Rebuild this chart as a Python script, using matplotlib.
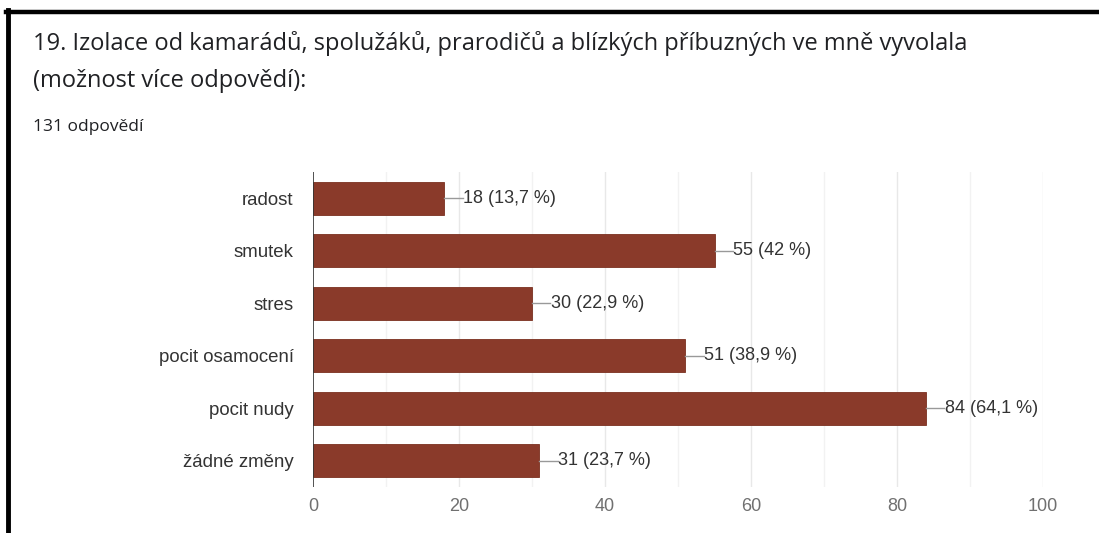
import matplotlib.pyplot as plt
import numpy as np

# data
categories = ["radost", "smutek", "stres", "pocit osamocení", "pocit nudy", "žádné změny"]
counts = [18, 55, 30, 51, 84, 31]
percents = ["13,7", "42", "22,9", "38,9", "64,1", "23,7"]
xticks = [0, 20, 40, 60, 80, 100]

title_1 = "19. Izolace od kamarádů, spolužáků, prarodičů a blízkých příbuzných ve mně vyvolala"
title_2 = "(možnost více odpovědí):"
subtitle = "131 odpovědí"

bar_color = "#8a3a2a"
W, H = 1099, 533

fig = plt.figure(figsize=(W / 100, H / 100), dpi=100)
fig.patch.set_facecolor("white")

# black frame (top and left)
fig.add_artist(plt.Line2D([6 / W, 1.0], [1 - 12 / H, 1 - 12 / H], color="black", lw=3.2))
fig.add_artist(plt.Line2D([8 / W, 8 / W], [0, 1 - 10 / H], color="black", lw=3.5))

# titles
fig.text(33 / W, 1 - 50 / H, title_1, fontsize=17, color="#202124", family="Open Sans")
fig.text(33 / W, 1 - 87 / H, title_2, fontsize=17, color="#202124", family="Open Sans")
fig.text(33 / W, 1 - 131 / H, subtitle, fontsize=12.5, color="#202124", family="Open Sans")

ax = fig.add_axes([313 / W, 1 - 487 / H, 730 / W, 315 / H])
y = np.arange(len(categories))
ax.barh(y, counts, height=0.62, color=bar_color, edgecolor="#7a3020", linewidth=0.6, zorder=3)

ax.set_xlim(0, 100)
ax.set_ylim(len(categories) - 0.5, -0.5)

# gridlines every 10
for v in range(10, 101, 10):
    ax.axvline(v, color="#e8e8e8" if v % 20 == 0 else "#f2f2f2", lw=1, zorder=1)
ax.axvline(0, color="#333333", lw=1.2, zorder=4)

for s in ax.spines.values():
    s.set_visible(False)

ax.set_yticks(y)
ax.set_yticklabels(categories, fontsize=13.4, color="#333333", family="Liberation Sans")
ax.set_xticks(xticks)
ax.set_xticklabels([str(t) for t in xticks], fontsize=13, color="#707070", family="Liberation Sans")
ax.tick_params(axis="both", length=0)
ax.tick_params(axis="y", pad=14)
ax.tick_params(axis="x", pad=8)

# value labels with leader lines
for i, (c, p) in enumerate(zip(counts, percents)):
    ax.plot([c, c + 2.5], [i, i], color="#999999", lw=1, zorder=3)
    ax.text(c + 2.6, i, f"{c} ({p} %)", va="center", ha="left", fontsize=13,
            color="#333333", family="Liberation Sans")

fig.savefig("out.png", dpi=100)
